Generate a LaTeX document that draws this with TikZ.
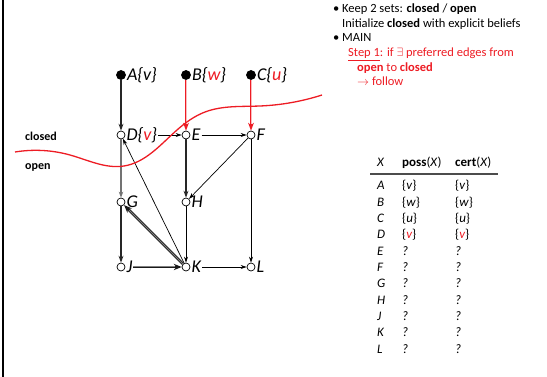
\documentclass[tikz,border=0pt]{standalone}
\usepackage{fontspec}
\setmainfont{Carlito}
\setsansfont{Carlito}
\usetikzlibrary{arrows.meta,hobby}
\definecolor{slidered}{RGB}{237,28,36}
\tikzset{
    graph node/.style={
        circle, draw, fill=white, inner sep=0pt,
        minimum size=8pt, line width=0.7pt
    },
    explicit node/.style={graph node, fill=black, minimum size=9pt},
    node label/.style={
        font=\fontsize{18}{20}\selectfont\itshape,
        inner sep=1pt, label distance=0pt
    },
    thin edge/.style={line width=0.7pt, -{Stealth[length=6pt,width=4pt]}},
    heavy edge/.style={line width=2pt, black!85, -{Stealth[length=7pt,width=5pt]}},
    grey edge/.style={line width=1.4pt, black!55, -{Stealth[length=6pt,width=4.5pt]}},
    double edge/.style={
        draw=black!90, line width=2.8pt,
        -{Stealth[length=8pt,width=6.5pt,line width=0pt]},
        postaction={draw=black!50, line width=1pt, -, shorten >=7pt}
    },
    red edge/.style={
        draw=slidered, line width=2.6pt,
        -{Stealth[length=8pt,width=6pt,line width=0pt]},
        postaction={draw=slidered!30, line width=0.9pt, -, shorten >=7pt}
    },
    set label/.style={anchor=west, inner sep=0pt, font=\fontsize{12}{14}\selectfont\bfseries},
    bullet text/.style={anchor=base west, inner sep=0pt, font=\fontsize{12.5}{14}\selectfont},
    table text/.style={anchor=base west, inner sep=0pt, font=\fontsize{13}{15}\selectfont\itshape}
}
\newcommand{\red}[1]{\textcolor{slidered}{#1}}

\begin{document}
\begin{tikzpicture}[x=1pt, y=-1pt]
\useasboundingbox (0,0) rectangle (547,377);
\draw[line width=2pt] (3,0) -- (3,377);

% the belief graph
\node[explicit node, label={[node label, name=Al]right:A\{v\}}] (A) at (121,75) {};
\node[explicit node, label={[node label, name=Bl]right:B\{\red{w}\}}] (B) at (186,75) {};
\node[explicit node, label={[node label, name=Cl]right:C\{\red{u}\}}] (C) at (251,75) {};
\node[graph node, label={[node label, name=Dl]right:D\{\red{v}\}}] (D) at (121,135) {};
\node[graph node, label={[node label, name=El]right:E}] (E) at (186,135) {};
\node[graph node, label={[node label, name=Fl]right:F}] (F) at (251,135) {};
\node[graph node, label={[node label, name=Gl]right:G}] (G) at (121,202) {};
\node[graph node, label={[node label, name=Hl]right:H}] (H) at (186,202) {};
\node[graph node, label={[node label, name=Jl]right:J}] (J) at (121,267) {};
\node[graph node, label={[node label, name=Kl]right:K}] (K) at (186,267) {};
\node[graph node, label={[node label, name=Ll]right:L}] (L) at (251,267) {};

\draw[heavy edge] (A) -- (D);
\draw[red edge] (B) -- (E);
\draw[red edge] (C) -- (F);
\draw[thin edge] (Dl) -- (E);
\draw[thin edge] (El) -- (F);
\draw[grey edge] (D) -- (G);
\draw[heavy edge] (E) -- (H);
\draw[thin edge] (F) -- (H);
\draw[thin edge] (F) -- (L);
\draw[thin edge] (K) -- (D);
\draw[heavy edge] (G) -- (J);
\draw[double edge] (Jl) -- (K);
\draw[double edge] (K) -- (G);
\draw[thin edge] (H) -- (K);
\draw[thin edge] (Kl) -- (L);

% cut between closed and open
\draw[slidered, line width=1.3pt, use Hobby shortcut]
(15,152) .. (70,155) .. (124,166) .. (177,130) .. (205,112) .. (260,106) .. (322,95);
\node[set label] (closed) at (25,136) {closed};
\node[set label] (open) at (25,167) {open};

% algorithm text
\node[bullet text] (b1) at (333,13) {\textbullet};
\node[bullet text] (keep) at (342,13) {Keep 2 sets: \textbf{closed} / \textbf{open}};
\node[bullet text] (init) at (342,28) {Initialize \textbf{closed} with explicit beliefs};
\node[bullet text] (b2) at (333,42) {\textbullet};
\node[bullet text] (main) at (342,42) {MAIN};
\node[bullet text, slidered] (step) at (348,57) {\underline{Step 1}: if $\exists$ preferred edges from};
\node[bullet text, slidered] (dir) at (357,72) {\textbf{open} to \textbf{closed}};
\node[bullet text, slidered] (follow) at (357,86) {$\rightarrow$ follow};

% table of possible and certain beliefs
\node[table text] (hx) at (377,167) {X};
\node[table text] (hposs) at (402,167) {\upshape\textbf{poss}(\textit{X})};
\node[table text] (hcert) at (455,167) {\upshape\textbf{cert}(\textit{X})};
\draw[black!70, line width=1.2pt] (370,174) -- (498,174);
\foreach \name/\val [count=\i from 0] in {A/v, B/w, C/u, D/\red{v}} {
    \node[table text] (x\name) at (377,{190+16.3*\i}) {\name};
    \node[table text] (p\name) at (402,{190+16.3*\i}) {\upshape\{\textit{\val}\}};
    \node[table text] (c\name) at (455,{190+16.3*\i}) {\upshape\{\textit{\val}\}};
}
\foreach \name [count=\i from 4] in {E,F,G,H,J,K,L} {
    \node[table text] (x\name) at (377,{190+16.3*\i}) {\name};
    \node[table text] (p\name) at (402,{190+16.3*\i}) {?};
    \node[table text] (c\name) at (455,{190+16.3*\i}) {?};
}
\end{tikzpicture}
\end{document}
